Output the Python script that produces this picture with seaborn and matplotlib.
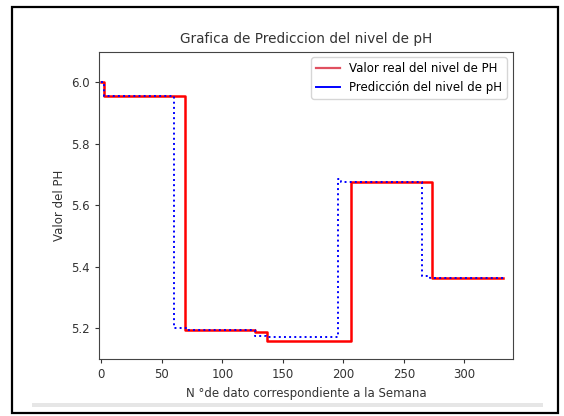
import matplotlib
matplotlib.use("Agg")
import matplotlib.pyplot as plt
from matplotlib.patches import Rectangle
from matplotlib.lines import Line2D
import pandas as pd
import seaborn as sns

# Breakpoints of the step series (value holds from x until the next x)
real_x = [0, 2, 69, 127, 137, 206, 273, 332]
real_y = [6.0, 5.954, 5.195, 5.189, 5.16, 5.675, 5.363, 5.363]

pred_x = [0, 2, 60, 70, 127, 136, 196, 198, 265, 272, 332]
pred_y = [6.0, 5.954, 5.2, 5.195, 5.175, 5.17, 5.684, 5.675, 5.37, 5.363, 5.363]

labels = ["Valor real del nivel de PH", "Predicción del nivel de pH"]
title = "Grafica de Prediccion del nivel de pH"
xlabel = "N \u00b0de dato correspondiente a la Semana"
ylabel = "Valor del PH"
xticks = [0, 50, 100, 150, 200, 250, 300]
yticks = [5.2, 5.4, 5.6, 5.8, 6.0]

real_df = pd.DataFrame({"x": real_x, "y": real_y})
pred_df = pd.DataFrame({"x": pred_x, "y": pred_y})

plt.rcParams["font.family"] = ["DejaVu Sans"]
fig = plt.figure(figsize=(5.64, 4.16), dpi=100)
ax = fig.add_axes([0.1755, 0.137, 0.7335, 0.739])

sns.lineplot(data=real_df, x="x", y="y", ax=ax, color="red", lw=1.8,
             drawstyle="steps-post", estimator=None, sort=False)
sns.lineplot(data=pred_df, x="x", y="y", ax=ax, color="blue", lw=1.4,
             linestyle=":", drawstyle="steps-post", estimator=None, sort=False)

ax.set_xlim(-2, 340)
ax.set_ylim(5.1, 6.1)
ax.set_xticks(xticks)
ax.set_yticks(yticks)
ax.set_yticklabels([f"{v:.1f}" for v in yticks])
ax.tick_params(labelsize=8.5, colors="#333333", length=3)
for s in ax.spines.values():
    s.set_color("#444444")
ax.set_title(title, fontsize=9.8, color="#333333")
ax.set_xlabel(xlabel, fontsize=8.5, color="#333333")
ax.set_ylabel(ylabel, fontsize=8.5, color="#333333")

handles = [Line2D([], [], color="#e05060", lw=1.6),
           Line2D([], [], color="blue", lw=1.4)]
ax.legend(handles, labels, loc="upper right", fontsize=8.5, frameon=True)

# screenshot frame and bottom band
fig.add_artist(Rectangle((12 / 564, 1 - 413 / 416), (558 - 12) / 564, (413 - 7) / 416,
                         transform=fig.transFigure, fill=False, ec="black", lw=1.6))
fig.add_artist(Rectangle((32 / 564, 1 - 407 / 416), (543 - 32) / 564, 4 / 416,
                         transform=fig.transFigure, fc="#e6e6e6", ec="none"))

fig.savefig("out.png", dpi=100)
